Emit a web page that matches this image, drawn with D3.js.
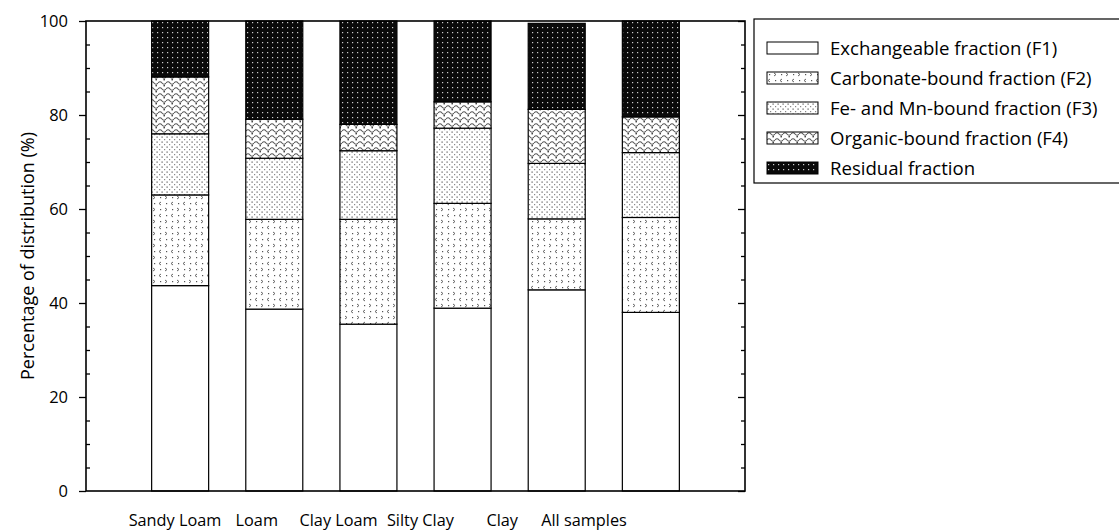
<!DOCTYPE html>
<html>
<head>
<meta charset="utf-8">
<script src="https://cdn.jsdelivr.net/npm/d3@7"></script>
<style>
  body { margin: 0; background: #fff; }
  text { font-family: "Open Sans", sans-serif; fill: #000; }
</style>
</head>
<body>
<div id="chart"></div>
<script>
// soil texture classes
var categories = ["Sandy Loam", "Loam", "Clay Loam", "Silty Clay", "Clay", "All samples"];
var fractions = ["Exchangeable fraction (F1)", "Carbonate-bound fraction (F2)", "Fe- and Mn-bound fraction (F3)", "Organic-bound fraction (F4)", "Residual fraction"];

// percentage of each fraction, per category
var f1 = [43.7, 38.7, 35.5, 38.9, 42.8, 38.0];
var f2 = [19.3, 19.1, 22.3, 22.3, 15.1, 20.2];
var f3 = [13.0, 13.0, 14.6, 16.0, 11.8, 13.8];
var f4 = [12.1, 8.3, 5.6, 5.6, 11.5, 7.6];
var residual = [11.9, 20.9, 22.0, 17.2, 18.3, 20.4];

var yMajorTicks = [0, 20, 40, 60, 80, 100];
var yMinorTicks = [5, 10, 15, 25, 30, 35, 45, 50, 55, 65, 70, 75, 85, 90, 95];

var svgWidth = 1119, svgHeight = 530;
var margin = {top: 21, right: 374, bottom: 39, left: 86};
var width = svgWidth - margin.left - margin.right;
var height = svgHeight - margin.top - margin.bottom;

var svg = d3.select("#chart").append("svg")
    .attr("width", svgWidth).attr("height", svgHeight);

// patterns for the fills
var defs = svg.append("defs");

function addPattern(id, w, h, draw) {
    var p = defs.append("pattern").attr("id", id)
        .attr("patternUnits", "userSpaceOnUse")
        .attr("width", w).attr("height", h);
    draw(p);
}

addPattern("pF2", 12, 12, function (p) {
    p.append("rect").attr("width", 12).attr("height", 12).attr("fill", "#fff");
    p.append("path").attr("d", "M3,1 L1,2.5 L3,4").attr("stroke", "#666").attr("stroke-width", 1).attr("fill", "none");
    p.append("path").attr("d", "M7,7 L9,8.5 L7,10").attr("stroke", "#666").attr("stroke-width", 1).attr("fill", "none");
    p.append("rect").attr("x", 8).attr("y", 2).attr("width", 1.2).attr("height", 1.2).attr("fill", "#555");
    p.append("rect").attr("x", 2).attr("y", 8).attr("width", 1.2).attr("height", 1.2).attr("fill", "#555");
});

addPattern("pF3", 5, 5, function (p) {
    p.append("rect").attr("width", 5).attr("height", 5).attr("fill", "#fff");
    p.append("rect").attr("x", 0.5).attr("y", 0.5).attr("width", 1.2).attr("height", 1.2).attr("fill", "#555");
    p.append("rect").attr("x", 3).attr("y", 3).attr("width", 1.2).attr("height", 1.2).attr("fill", "#888");
});

addPattern("pF4", 8, 6, function (p) {
    p.append("rect").attr("width", 8).attr("height", 6).attr("fill", "#fff");
    p.append("path").attr("d", "M0,2 Q2,-0.5 4,2 T8,2").attr("stroke", "#555").attr("stroke-width", 1.1).attr("fill", "none");
    p.append("rect").attr("x", 5.5).attr("y", 4).attr("width", 1.4).attr("height", 1.4).attr("fill", "#333");
});

addPattern("pRes", 5, 5, function (p) {
    p.append("rect").attr("width", 5).attr("height", 5).attr("fill", "#0a0a0a");
    p.append("rect").attr("x", 1).attr("y", 1).attr("width", 1.2).attr("height", 1.2).attr("fill", "#ccc");
});

var fills = ["#fff", "url(#pF2)", "url(#pF3)", "url(#pF4)", "url(#pRes)"];

var chart = svg.append("g").attr("transform", `translate(${margin.left},${margin.top})`);

var xScale = d3.scaleLinear().domain([0, categories.length + 1]).range([0, width]);
var yScale = d3.scaleLinear().domain([0, 100]).range([height, 0]);
var barWidth = 57;

// stack the series
var rows = categories.map(function (c, i) {
    return {cat: c, i: i, f1: f1[i], f2: f2[i], f3: f3[i], f4: f4[i], res: residual[i]};
});
var stack = d3.stack().keys(["f1", "f2", "f3", "f4", "res"]);
var series = stack(rows);

chart.selectAll(".layer")
    .data(series)
    .enter()
    .append("g")
    .attr("class", "layer")
    .attr("fill", function (d, i) { return fills[i]; })
    .selectAll("rect")
    .data(function (d) { return d; })
    .enter()
    .append("rect")
    .attr("x", function (d) { return xScale(d.data.i + 1) - barWidth / 2; })
    .attr("y", function (d) { return yScale(d[1]); })
    .attr("width", barWidth)
    .attr("height", function (d) { return yScale(d[0]) - yScale(d[1]); })
    .attr("stroke", "#000")
    .attr("stroke-width", 1.2);

// axes
var axisColor = "#000";
var leftMajor = d3.axisLeft(yScale).tickValues(yMajorTicks).tickSize(7).tickPadding(11);
var leftMinor = d3.axisRight(yScale).tickValues(yMinorTicks).tickSize(4).tickFormat("");
var rightMajor = d3.axisLeft(yScale).tickValues(yMajorTicks).tickSize(7).tickFormat("");
var rightMinor = d3.axisLeft(yScale).tickValues(yMinorTicks).tickSize(4).tickFormat("");

function styleAxis(g) {
    g.select(".domain").remove();
    g.selectAll("line").attr("stroke", axisColor).attr("stroke-width", 1.3);
    g.selectAll("text").style("font-size", "16.5px").style("font-family", "'Open Sans', sans-serif");
}

chart.append("g").call(leftMajor).call(styleAxis);
chart.append("g").call(leftMinor).call(styleAxis);
chart.append("g").attr("transform", `translate(${width},0)`).call(rightMajor).call(styleAxis);
chart.append("g").attr("transform", `translate(${width},0)`).call(rightMinor).call(styleAxis);

// frame
chart.append("rect")
    .attr("x", 0).attr("y", 0)
    .attr("width", width).attr("height", height)
    .attr("fill", "none")
    .attr("stroke", axisColor)
    .attr("stroke-width", 1.6);

// category labels (not aligned under bars in the original)
var labelScale = d3.scalePoint().domain(categories).range([175 - margin.left, 584 - margin.left]);
chart.selectAll(".xlab")
    .data(categories)
    .enter()
    .append("text")
    .attr("class", "xlab")
    .attr("x", function (d) { return labelScale(d); })
    .attr("y", height + 35)
    .attr("text-anchor", "middle")
    .style("font-size", "16.3px")
    .text(function (d) { return d; });

// y axis title
svg.append("text")
    .attr("transform", `translate(28,${margin.top + height / 2})rotate(-90)`)
    .attr("text-anchor", "middle")
    .attr("dy", "0.35em")
    .style("font-size", "18px")
    .text("Percentage of distribution (%)");

// legend
var legend = svg.append("g").attr("transform", "translate(754,19)");
legend.append("rect")
    .attr("width", 380).attr("height", 164)
    .attr("fill", "#fff")
    .attr("stroke", "#000")
    .attr("stroke-width", 1.2);

var items = legend.selectAll(".item")
    .data(fractions)
    .enter()
    .append("g")
    .attr("class", "item")
    .attr("transform", function (d, i) { return `translate(13,${29 + i * 30})`; });

items.append("rect")
    .attr("x", 0).attr("y", -6)
    .attr("width", 51).attr("height", 12)
    .attr("fill", function (d, i) { return fills[i]; })
    .attr("stroke", "#000")
    .attr("stroke-width", 1);

items.append("text")
    .attr("x", 63)
    .attr("dy", "0.35em")
    .style("font-size", "18.6px")
    .text(function (d) { return d; });
</script>
</body>
</html>
